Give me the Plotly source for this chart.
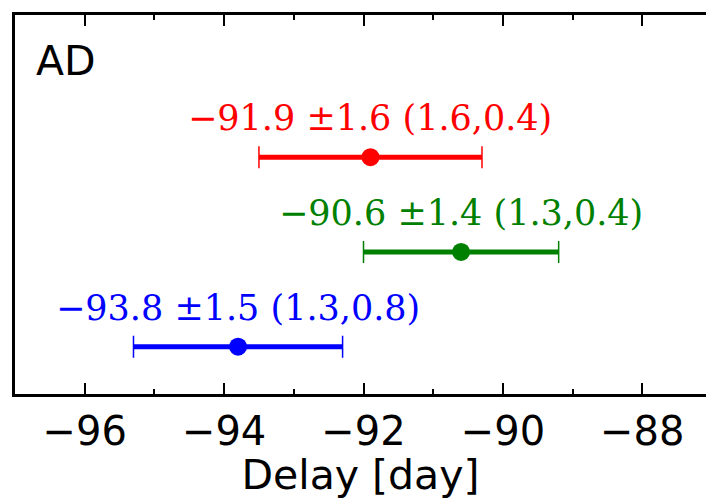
import plotly.graph_objects as go

# ---- data ----
series_names = ["red", "green", "blue"]
delays = [-91.9, -90.6, -93.8]
errors = [1.6, 1.4, 1.5]
err_a = [1.6, 1.3, 1.3]
err_b = [0.4, 0.4, 0.8]
levels = [3, 2, 1]
colors = ["#ff0000", "#008000", "#0000ff"]
tick_vals = [-96, -94, -92, -90, -88]
panel_label = "AD"
x_title = "Delay [day]"

W, H = 706, 499
ML, MR, MT, MB = 15, 0, 15, 105
px_per_day = 69.7
x0 = -97.0
x1 = x0 + (W - ML - MR) / px_per_day

fig = go.Figure()
for v, e, lv, c in zip(delays, errors, levels, colors):
    # thick stem of the error bar
    fig.add_trace(go.Scatter(x=[v - e, v + e], y=[lv, lv], mode="lines",
                             line=dict(color=c, width=5), showlegend=False,
                             hoverinfo="skip"))
    # point with thin caps
    fig.add_trace(go.Scatter(x=[v], y=[lv], mode="markers",
                             marker=dict(color=c, size=18),
                             error_x=dict(type="constant", value=e, color=c,
                                          thickness=1.5, width=11),
                             showlegend=False))

def fmt(val):
    s = f"{abs(val):.1f}"
    return ("\u2212" + s) if val < 0 else s

for v, e, a, b, lv, c in zip(delays, errors, err_a, err_b, levels, colors):
    fig.add_annotation(x=v, y=lv, xref="x", yref="y",
                       text=f"{fmt(v)} \u00b1{e:.1f} ({a:.1f},{b:.1f})",
                       showarrow=False, xanchor="center", yanchor="bottom",
                       yshift=17, font=dict(family="DejaVu Serif", size=35, color=c))

fig.add_annotation(x=(34 - ML) / (W - ML - MR), y=1, xref="paper", yref="paper",
                   text=panel_label, showarrow=False, xanchor="left", yanchor="top",
                   yshift=-20, font=dict(family="DejaVu Sans", size=41, color="black"))

fig.update_layout(
    width=W, height=H,
    margin=dict(l=ML, r=MR, t=MT, b=MB, pad=0),
    paper_bgcolor="white", plot_bgcolor="white",
    font=dict(family="DejaVu Sans", color="black"),
    xaxis=dict(range=[x0, x1], tickvals=tick_vals, ticks="inside", ticklen=11,
               tickwidth=1.5, tickcolor="black", showline=True, linewidth=3,
               linecolor="black", mirror="allticks", showgrid=False, zeroline=False,
               tickfont=dict(size=40, family="DejaVu Sans"),
               minor=dict(dtick=1, tick0=-97, ticks="inside", ticklen=5,
                          tickwidth=1.5, tickcolor="black", showgrid=False),
               title=dict(text=x_title, font=dict(size=41, family="DejaVu Sans"),
                          standoff=4),
               automargin=False),
    yaxis=dict(range=[0.5, 4.5], showticklabels=False, ticks="", showgrid=False,
               zeroline=False, showline=True, linewidth=3, linecolor="black",
               mirror=False, automargin=False),
)
fig.write_html("out.html")
